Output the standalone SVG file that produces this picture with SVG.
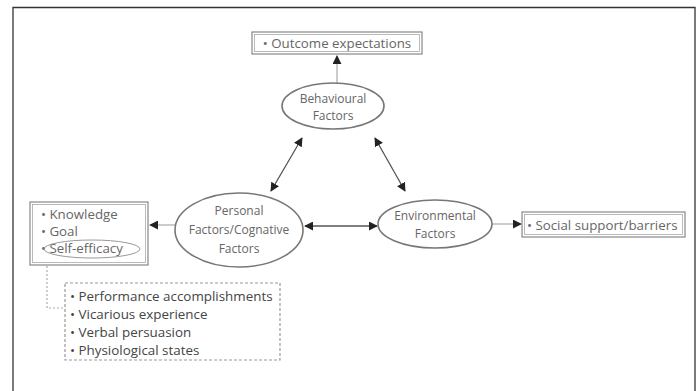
<svg xmlns="http://www.w3.org/2000/svg" width="698" height="391" viewBox="0 0 698 391">
<defs>
<style>
.t{font-family:"Open Sans","Liberation Sans",sans-serif;font-size:12px;fill:#666;text-anchor:middle}
.tl{font-family:"Open Sans","Liberation Sans",sans-serif;font-size:13.3px;fill:#666}
.tc{font-family:"Open Sans","Liberation Sans",sans-serif;font-size:13.3px;fill:#666;text-anchor:middle}
.td{font-family:"Open Sans","Liberation Sans",sans-serif;font-size:13.4px;fill:#444}
.ell{fill:#fff;stroke:#777;stroke-width:1.6}
.box{fill:#fff;stroke:#888;stroke-width:1.2}
.ln{stroke:#555;stroke-width:1.3;fill:none}
.lg{stroke:#aaa;stroke-width:1.2;fill:none}
</style>
<marker id="ah" viewBox="0 0 10 10" refX="9" refY="5" markerWidth="9" markerHeight="9" orient="auto-start-reverse" markerUnits="userSpaceOnUse">
<path d="M0,0 L10,5 L0,10 z" fill="#222"/>
</marker>
</defs>
<rect width="698" height="391" fill="#fff"/>
<path d="M13,395 V7.5 H695 V395" fill="none" stroke="#333" stroke-width="1.3"/>
<g id="connectors">
<line class="lg" x1="337" y1="83" x2="337" y2="56" marker-end="url(#ah)"/>
<line class="ln" x1="302" y1="138" x2="271" y2="191" marker-start="url(#ah)" marker-end="url(#ah)"/>
<line class="ln" x1="375" y1="138" x2="405" y2="191" marker-start="url(#ah)" marker-end="url(#ah)"/>
<line class="ln" x1="305" y1="226" x2="377" y2="226" marker-start="url(#ah)" marker-end="url(#ah)"/>
<line class="lg" x1="492" y1="224" x2="521" y2="224" marker-end="url(#ah)"/>
<line class="lg" x1="175" y1="225" x2="150" y2="225" marker-end="url(#ah)"/>
<path d="M47,258 V308 H65" fill="none" stroke="#aaa" stroke-width="1.2" stroke-dasharray="2,2"/>
</g>
<g id="outcome">
<rect class="box" x="252" y="32" width="170" height="22"/>
<rect x="254.5" y="34.5" width="165" height="17" fill="none" stroke="#aaa" stroke-width="0.8"/>
<text class="tc" x="337" y="47.5">• Outcome expectations</text>
</g>
<g id="behavioural">
<ellipse class="ell" cx="333" cy="106" rx="51" ry="23"/>
<text class="t" x="333" y="103">Behavioural</text>
<text class="t" x="333" y="120">Factors</text>
</g>
<g id="personal">
<ellipse class="ell" cx="239" cy="230" rx="64" ry="37"/>
<text class="t" x="239" y="215">Personal</text>
<text class="t" x="239" y="234">Factors/Cognative</text>
<text class="t" x="239" y="253">Factors</text>
</g>
<g id="environmental">
<ellipse class="ell" cx="435" cy="224" rx="57" ry="24"/>
<text class="t" x="435" y="220">Environmental</text>
<text class="t" x="435" y="238">Factors</text>
</g>
<g id="social">
<rect class="box" x="522" y="212" width="163" height="25"/>
<rect x="524.5" y="214.5" width="158" height="20" fill="none" stroke="#aaa" stroke-width="0.8"/>
<text class="tl" x="527" y="229.5">• Social support/barriers</text>
</g>
<g id="personal-list">
<rect class="box" x="30" y="202" width="118" height="63"/>
<rect x="32.5" y="204.5" width="113" height="58" fill="none" stroke="#aaa" stroke-width="0.8"/>
<text class="tl" x="41" y="219">• Knowledge</text>
<text class="tl" x="41" y="236">• Goal</text>
<text class="tl" x="41" y="253">• Self-efficacy</text>
<ellipse cx="92" cy="249" rx="48" ry="9" fill="none" stroke="#999" stroke-width="1"/>
</g>
<g id="self-efficacy-sources">
<rect x="65" y="283" width="215" height="77" fill="none" stroke="#999" stroke-width="1.2" stroke-dasharray="3,2"/>
<text class="td" x="70" y="301">• Performance accomplishments</text>
<text class="td" x="70" y="319">• Vicarious experience</text>
<text class="td" x="70" y="337">• Verbal persuasion</text>
<text class="td" x="70" y="355">• Physiological states</text>
</g>
</svg>
